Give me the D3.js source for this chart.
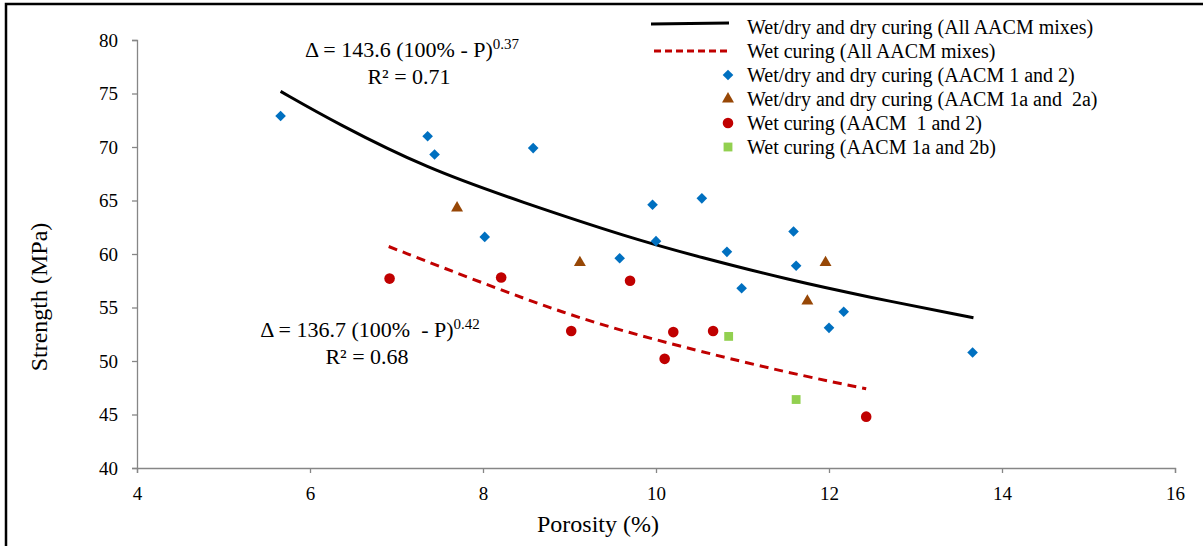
<!DOCTYPE html>
<html>
<head>
<meta charset="utf-8">
<script src="https://cdn.jsdelivr.net/npm/d3@7"></script>
<style>
  body { margin: 0; background: #fff; }
  svg, svg text { font-family: "Liberation Serif", Tinos, "Times New Roman", Times, serif; fill: #000; white-space: pre; }
</style>
</head>
<body>
<svg id="chart" width="1203" height="546"></svg>
<script>
// axis ticks
var xTicks = [4, 6, 8, 10, 12, 14, 16];
var yTicks = [40, 45, 50, 55, 60, 65, 70, 75, 80];

// Wet/dry and dry curing (AACM 1 and 2) - blue diamonds
var dryDiamonds = [
  [5.66, 72.9], [7.36, 71.0], [7.44, 69.3], [8.58, 69.9], [8.02, 61.6],
  [9.58, 59.6], [9.96, 64.6], [10.0, 61.2], [10.53, 65.2], [11.59, 62.1],
  [10.82, 60.2], [11.62, 58.9], [10.99, 56.8], [12.17, 54.6], [12.0, 53.1],
  [13.66, 50.8]
];
// Wet/dry and dry curing (AACM 1a and 2a) - brown triangles
var dryTriangles = [[7.70, 64.3], [9.12, 59.2], [11.96, 59.2], [11.75, 55.6]];
// Wet curing (AACM 1 and 2) - red circles
var wetCircles = [
  [6.92, 57.7], [8.21, 57.8], [9.70, 57.5], [9.02, 52.8], [10.20, 52.7],
  [10.66, 52.8], [10.10, 50.2], [12.43, 44.8]
];
// Wet curing (AACM 1a and 2b) - green squares
var wetSquares = [[10.84, 52.3], [11.62, 46.4]];

// trend lines
var dryTrend = [
  [5.66, 75.2], [6.31, 72.2], [7.35, 68.0], [8.43, 64.9], [9.70, 61.5],
  [10.51, 59.7], [11.53, 57.6], [12.44, 56.0], [13.67, 54.05]
];
var wetTrend = [
  [6.91, 60.7], [8.21, 56.6], [9.28, 53.5], [10.51, 50.9], [11.47, 49.0], [12.43, 47.4]
];

var legendLabels = [
  "Wet/dry and dry curing (All AACM mixes)",
  "Wet curing (All AACM mixes)",
  "Wet/dry and dry curing (AACM 1 and 2)",
  "Wet/dry and dry curing (AACM 1a and  2a)",
  "Wet curing (AACM  1 and 2)",
  "Wet curing (AACM 1a and 2b)"
];

var svg = d3.select("#chart");
var x = d3.scaleLinear().domain([4, 16]).range([137, 1175]);
var y = d3.scaleLinear().domain([40, 80]).range([468, 40]);

// outer frame (left and top edges visible)
svg.append("path").attr("d", "M6,546 L6,4 L1203,4")
  .attr("fill", "none").attr("stroke", "#000").attr("stroke-width", 2.5);

var axisColor = "#868686";
var gx = svg.append("g").attr("transform", "translate(0," + y(40) + ")")
  .call(d3.axisBottom(x).tickValues(xTicks).tickSize(5).tickPadding(10));
var gy = svg.append("g").attr("transform", "translate(" + x(4) + ",0)")
  .call(d3.axisLeft(y).tickValues(yTicks).tickSize(5).tickPadding(14));
[gx, gy].forEach(function(g) {
  g.attr("font-family", null).attr("font-size", null);
  g.select(".domain").attr("stroke", axisColor).attr("stroke-width", 1.3);
  g.selectAll(".tick line").attr("stroke", axisColor).attr("stroke-width", 1.3);
  g.selectAll(".tick text").style("font-size", "19px").attr("fill", "#000");
});
gx.selectAll(".tick text").attr("dy", "0.9em");

svg.append("text").attr("x", 598).attr("y", 532).attr("text-anchor", "middle")
  .style("font-size", "24px").text("Porosity (%)");
svg.append("text").attr("transform", "translate(47,297) rotate(-90)")
  .attr("text-anchor", "middle").style("font-size", "24px").text("Strength (MPa)");

// trend lines
var line = d3.line().curve(d3.curveBasis)
  .x(function(d) { return x(d[0]); }).y(function(d) { return y(d[1]); });
svg.append("path").datum(dryTrend).attr("d", line)
  .attr("fill", "none").attr("stroke", "#000").attr("stroke-width", 3);
svg.append("path").datum(wetTrend).attr("d", line)
  .attr("fill", "none").attr("stroke", "#C00000").attr("stroke-width", 3)
  .attr("stroke-dasharray", "9,6");

// markers
var sym = {
  diamond: d3.symbol().type(d3.symbolDiamond2).size(72),
  triangle: d3.symbol().type(d3.symbolTriangle).size(62),
  circle: d3.symbol().type(d3.symbolCircle).size(88),
  square: d3.symbol().type(d3.symbolSquare).size(78)
};
function drawPoints(data, shape, color) {
  svg.append("g").selectAll("path").data(data).enter().append("path")
    .attr("transform", function(d) { return "translate(" + x(d[0]) + "," + y(d[1]) + ")"; })
    .attr("d", sym[shape]).attr("fill", color);
}
drawPoints(dryDiamonds, "diamond", "#0070C0");
drawPoints(dryTriangles, "triangle", "#974706");
drawPoints(wetCircles, "circle", "#C00000");
drawPoints(wetSquares, "square", "#92D050");

// equations
function equation(cx, by, body, expo, r2) {
  var t = svg.append("text").attr("x", cx).attr("y", by).attr("text-anchor", "middle")
    .style("font-size", "22px");
  t.append("tspan").text(body);
  t.append("tspan").attr("dy", "-0.55em").style("font-size", "15px").text(expo);
  svg.append("text").attr("x", cx - 3).attr("y", by + 27).attr("text-anchor", "middle")
    .style("font-size", "22px").text("R\u00b2 = " + r2);
}
equation(412, 57, "\u0394 = 143.6 (100% - P)", "0.37", "0.71");
equation(370, 337, "\u0394 = 136.7 (100%  - P)", "0.42", "0.68");

// legend
var lg = svg.append("g");
var rowY = [28, 52, 76, 100, 124, 148];
lg.selectAll("text").data(legendLabels).enter().append("text")
  .attr("x", 747).attr("y", function(d, i) { return rowY[i] + 6; })
  .style("font-size", "20px").text(function(d) { return d; });
lg.append("line").attr("x1", 651).attr("x2", 729).attr("y1", 24).attr("y2", 23)
  .attr("stroke", "#000").attr("stroke-width", 3);
lg.append("line").attr("x1", 654).attr("x2", 729).attr("y1", 51).attr("y2", 51)
  .attr("stroke", "#C00000").attr("stroke-width", 3).attr("stroke-dasharray", "7,4");
[["diamond", "#0070C0"], ["triangle", "#974706"], ["circle", "#C00000"], ["square", "#92D050"]]
  .forEach(function(m, i) {
    lg.append("path").attr("transform", "translate(728," + (rowY[i + 2] - 1) + ")")
      .attr("d", sym[m[0]]).attr("fill", m[1]);
  });
</script>
</body>
</html>
